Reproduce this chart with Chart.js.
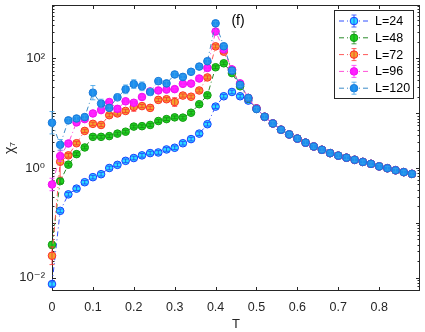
<!DOCTYPE html>
<html>
<head>
<meta charset="utf-8">
<script src="https://cdn.jsdelivr.net/npm/chart.js@4.4.1/dist/chart.umd.min.js"></script>
<style>
  html, body { margin: 0; padding: 0; background: #fff; }
</style>
</head>
<body>
<canvas id="chi7" width="425" height="332"></canvas>
<script>
// temperatures
const temps = [0, 0.02, 0.04, 0.06, 0.08, 0.10, 0.12, 0.14, 0.16, 0.18, 0.20, 0.22, 0.24, 0.26, 0.28,
  0.30, 0.32, 0.34, 0.36, 0.38, 0.40, 0.42, 0.44, 0.46, 0.48, 0.50, 0.52, 0.54, 0.56, 0.58,
  0.60, 0.62, 0.64, 0.66, 0.68, 0.70, 0.72, 0.74, 0.76, 0.78, 0.80, 0.82, 0.84, 0.86, 0.88];

const chiL24 = [0.0076, 0.165, 0.33, 0.42, 0.55, 0.68, 0.77, 1.0, 1.14, 1.35, 1.52, 1.70, 1.87, 1.92, 2.18,
  2.34, 2.83, 3.37, 4.24, 6.3, 13.2, 20.4, 24.4, 20.4, 17, 12.3, 8.6, 6.5, 5.0, 4.1,
  3.44, 2.9, 2.47, 2.15, 1.87, 1.68, 1.54, 1.41, 1.29, 1.19, 1.07, 0.99, 0.91, 0.84, 0.78];
const chiL48 = [0.0395, 0.575, 1.15, 1.79, 2.37, 3.7, 3.7, 3.82, 4.24, 4.6, 5.7, 5.8, 6.1, 7.2, 7.8,
  8.4, 8.3, 10.2, 14.6, 21.3, 69, 81.5, 54, 31, 18.5, 12, 8.6, 6.5, 5.0, 4.1,
  3.44, 2.9, 2.47, 2.15, 1.87, 1.68, 1.54, 1.41, 1.29, 1.19, 1.07, 0.99, 0.91, 0.84, 0.78];
const chiL72 = [0.025, 1.3, 1.7, 2.83, 4.75, 6.4, 6.1, 9.2, 9.9, 11, 13, 13.5, 12.5, 17.5, 18,
  16, 21, 20, 26, 45, 166, 133, 62, 34, 19, 12.2, 8.6, 6.5, 5.0, 4.1,
  3.44, 2.9, 2.47, 2.15, 1.87, 1.68, 1.54, 1.41, 1.29, 1.19, 1.07, 0.99, 0.91, 0.84, 0.78];
const chiL96 = [0.5, 1.65, 2.8, 6.8, 7.8, 9.9, 11.4, 16, 12, 16.5, 15.5, 19.8, 25, 26, 27,
  27.5, 34.4, 34.7, 43, 67, 310, 146, 63, 35, 19, 12.1, 8.6, 6.5, 5.0, 4.1,
  3.44, 2.9, 2.47, 2.15, 1.87, 1.68, 1.54, 1.41, 1.29, 1.19, 1.07, 0.99, 0.91, 0.84, 0.78];
const chiL120 = [6.7, 2.65, 7.4, 8.0, 8.5, 23.7, 15, 12.5, 19.5, 27.3, 34, 31, 24.4, 38.5, 35,
  51, 46, 57, 71, 89, 437, 167, 60, 33, 19, 11.9, 8.6, 6.5, 5.0, 4.1,
  3.44, 2.9, 2.47, 2.15, 1.87, 1.68, 1.54, 1.41, 1.29, 1.19, 1.07, 0.99, 0.91, 0.84, 0.78];

// relative error bar half-widths
const errL24 = [0.1, 0.08, 0.08, 0.08, 0.08, 0.08, 0.08, 0.08, 0.08, 0.08, 0.08, 0.08, 0.08, 0.08, 0.08,
  0.08, 0.08, 0.08, 0.08, 0.08, 0.08, 0.08, 0.08, 0.08, 0.08, 0.08, 0.08, 0.08, 0.08, 0.08,
  0.08, 0.08, 0.08, 0.08, 0.08, 0.08, 0.08, 0.08, 0.08, 0.08, 0.08, 0.08, 0.08, 0.08, 0.08];
const errL48 = [0.15, 0.1, 0.06, 0.06, 0.06, 0.06, 0.06, 0.06, 0.06, 0.06, 0.06, 0.06, 0.06, 0.06, 0.06,
  0.06, 0.06, 0.06, 0.06, 0.06, 0.06, 0.06, 0.06, 0.06, 0.06, 0.06, 0.06, 0.06, 0.06, 0.06,
  0.06, 0.06, 0.06, 0.06, 0.06, 0.06, 0.06, 0.06, 0.06, 0.06, 0.06, 0.06, 0.06, 0.06, 0.06];
const errL72 = [0.45, 0.9, 0.08, 0.07, 0.07, 0.07, 0.07, 0.07, 0.07, 0.07, 0.2, 0.07, 0.07, 0.07, 0.07,
  0.2, 0.07, 0.07, 0.07, 0.07, 0.07, 0.07, 0.07, 0.07, 0.07, 0.07, 0.07, 0.07, 0.07, 0.07,
  0.07, 0.07, 0.07, 0.07, 0.07, 0.07, 0.07, 0.07, 0.07, 0.07, 0.07, 0.07, 0.07, 0.07, 0.07];
const errL96 = [0.3, 0.25, 0.08, 0.07, 0.07, 0.07, 0.07, 0.07, 0.07, 0.1, 0.1, 0.07, 0.07, 0.07, 0.07,
  0.07, 0.07, 0.07, 0.07, 0.07, 0.07, 0.07, 0.07, 0.07, 0.07, 0.07, 0.07, 0.07, 0.07, 0.07,
  0.07, 0.07, 0.07, 0.07, 0.07, 0.07, 0.07, 0.07, 0.07, 0.07, 0.07, 0.07, 0.07, 0.07, 0.07];
const errL120 = [0.6, 0.25, 0.08, 0.08, 0.08, 0.35, 0.2, 0.08, 0.15, 0.2, 0.2, 0.2, 0.15, 0.12, 0.08,
  0.08, 0.08, 0.08, 0.08, 0.08, 0.08, 0.08, 0.08, 0.08, 0.08, 0.08, 0.08, 0.08, 0.08, 0.08,
  0.08, 0.08, 0.08, 0.08, 0.08, 0.08, 0.08, 0.08, 0.08, 0.08, 0.08, 0.08, 0.08, 0.08, 0.08];

const seriesNames = ['L=24', 'L=48', 'L=72', 'L=96', 'L=120'];
const xTicks = [0, 0.1, 0.2, 0.3, 0.4, 0.5, 0.6, 0.7, 0.8];
const yTicks = [0.01, 1, 100];
const yTickLabels = ['10\u207B\u00B2', '10\u2070', '10\u00B2'];

const faceColors = ['#2adcff', '#1ed21e', '#f2a22e', '#ff1aff', '#1c8fef'];
const edgeColors = ['#1a3cff', '#139a13', '#ff2a2a', '#ee10ee', '#1878d8'];
const lineColors = ['#3050ff', '#2a8a2a', '#ff5a5a', '#ff50d8', '#3c8cc8'];
const barColors = ['#2040ff', '#1a8a1a', '#ff3030', '#ff30ff', '#3aa0e8'];

const allChi = [chiL24, chiL48, chiL72, chiL96, chiL120];
const allErr = [errL24, errL48, errL72, errL96, errL120];
const fontFamily = '"Liberation Sans", Arial, Helvetica, "DejaVu Sans", sans-serif';
const axisColor = '#262626';

const datasets = seriesNames.map((name, i) => ({
  label: name,
  data: temps.map((t, j) => ({ x: t, y: allChi[i][j] })),
  errRel: allErr[i],
  borderColor: lineColors[i],
  borderWidth: 1,
  borderDash: [5, 3, 1, 3],
  pointRadius: 3.8,
  pointBackgroundColor: faceColors[i],
  pointBorderColor: edgeColors[i],
  pointBorderWidth: 1,
  tension: 0,
  fill: false,
  clip: false,
  order: seriesNames.length - i
}));

// box + inward ticks, drawn under the data like matlab
const axesBox = {
  id: 'axesBox',
  beforeDatasetsDraw(chart) {
    const { ctx, chartArea: a, scales } = chart;
    const xs = scales.x, ys = scales.y;
    ctx.save();
    ctx.strokeStyle = axisColor;
    ctx.lineWidth = 1;
    ctx.strokeRect(a.left + 0.5, a.top + 0.5, a.right - a.left - 1, a.bottom - a.top - 1);
    ctx.beginPath();
    xTicks.forEach(v => {
      const px = Math.round(xs.getPixelForValue(v)) + 0.5;
      ctx.moveTo(px, a.bottom); ctx.lineTo(px, a.bottom - 4);
      ctx.moveTo(px, a.top); ctx.lineTo(px, a.top + 4);
    });
    for (let e = -3; e <= 3; e++) {
      for (let m = 1; m <= 9; m++) {
        const v = m * Math.pow(10, e);
        if (v < ys.min || v > ys.max) continue;
        const py = Math.round(ys.getPixelForValue(v)) + 0.5;
        const len = m === 1 ? 4 : 2.5;
        ctx.moveTo(a.left, py); ctx.lineTo(a.left + len, py);
        ctx.moveTo(a.right, py); ctx.lineTo(a.right - len, py);
      }
    }
    ctx.stroke();
    ctx.restore();
  }
};

const errorBars = {
  id: 'errorBars',
  afterDatasetDraw(chart, args) {
    const ds = chart.data.datasets[args.index];
    const ys = chart.scales.y;
    const ctx = chart.ctx;
    ctx.save();
    ctx.strokeStyle = barColors[args.index];
    ctx.lineWidth = 0.8;
    ctx.beginPath();
    args.meta.data.forEach((pt, j) => {
      const v = ds.data[j].y;
      const e = ds.errRel[j];
      const yTop = ys.getPixelForValue(v * (1 + e));
      const yBot = ys.getPixelForValue(v / (1 + e));
      ctx.moveTo(pt.x, yTop); ctx.lineTo(pt.x, yBot);
      ctx.moveTo(pt.x - 2.5, yTop); ctx.lineTo(pt.x + 2.5, yTop);
      ctx.moveTo(pt.x - 2.5, yBot); ctx.lineTo(pt.x + 2.5, yBot);
    });
    ctx.stroke();
    ctx.restore();
  }
};

const boxLegend = {
  id: 'boxLegend',
  afterDraw(chart) {
    const ctx = chart.ctx;
    ctx.save();
    ctx.fillStyle = '#000';
    ctx.font = '14px ' + fontFamily;
    ctx.textAlign = 'center';
    ctx.textBaseline = 'middle';
    ctx.fillText('(f)', 238, 21);

    ctx.fillStyle = '#fff';
    ctx.fillRect(334, 10, 79, 88);
    ctx.strokeStyle = axisColor;
    ctx.lineWidth = 1;
    ctx.strokeRect(334.5, 10.5, 79, 88);
    seriesNames.forEach((name, i) => {
      const y = 21 + i * 16.8;
      ctx.strokeStyle = lineColors[i];
      ctx.lineWidth = 1;
      ctx.setLineDash([5, 3, 1, 3]);
      ctx.beginPath();
      ctx.moveTo(339, y); ctx.lineTo(369, y);
      ctx.stroke();
      ctx.setLineDash([]);
      ctx.beginPath();
      ctx.arc(354, y, 3.8, 0, Math.PI * 2);
      ctx.fillStyle = faceColors[i];
      ctx.fill();
      ctx.strokeStyle = edgeColors[i];
      ctx.stroke();
      ctx.strokeStyle = barColors[i];
      ctx.lineWidth = 0.8;
      ctx.beginPath();
      ctx.moveTo(354, y - 6); ctx.lineTo(354, y + 6);
      ctx.moveTo(351.5, y - 6); ctx.lineTo(356.5, y - 6);
      ctx.moveTo(351.5, y + 6); ctx.lineTo(356.5, y + 6);
      ctx.stroke();
      ctx.fillStyle = '#000';
      ctx.font = '12.5px ' + fontFamily;
      ctx.textAlign = 'left';
      ctx.fillText(name, 375, y + 0.5);
    });
    ctx.restore();
  }
};

const ctx = document.getElementById('chi7').getContext('2d');
const chiChart = new Chart(ctx, {
  type: 'line',
  data: { datasets: datasets },
  plugins: [axesBox, errorBars, boxLegend],
  options: {
    responsive: false,
    animation: false,
    devicePixelRatio: 1,
    layout: { padding: { top: 2, right: 2, left: 0, bottom: 0 } },
    plugins: { legend: { display: false }, tooltip: { enabled: false } },
    scales: {
      x: {
        type: 'linear',
        min: 0,
        max: 0.8998,
        afterBuildTicks: s => { s.ticks = xTicks.map(v => ({ value: v })); },
        afterFit: s => { s.height = 41; s.paddingLeft = 0; s.paddingRight = 0; },
        grid: { display: false, drawTicks: false },
        border: { display: false },
        ticks: {
          padding: 9,
          color: axisColor,
          font: { family: fontFamily, size: 12.5 },
          callback: v => (v === 0 ? '0' : v.toFixed(1))
        },
        title: {
          display: true, text: 'T', color: axisColor,
          font: { family: fontFamily, size: 13 },
          padding: { top: 0, bottom: 0 }
        }
      },
      y: {
        type: 'logarithmic',
        min: 0.00568,
        max: 945,
        afterBuildTicks: s => { s.ticks = yTicks.map(v => ({ value: v })); },
        afterFit: s => { s.width = 52; s.paddingTop = 0; s.paddingBottom = 0; },
        grid: { display: false, drawTicks: false },
        border: { display: false },
        ticks: {
          padding: 7,
          color: axisColor,
          font: { family: fontFamily, size: 13 },
          callback: (v, i) => yTickLabels[i]
        },
        title: {
          display: true, text: '\u03C7\u2087', color: axisColor,
          font: { family: fontFamily, size: 14 },
          padding: { top: 2, bottom: 0 }
        }
      }
    }
  }
});
</script>
</body>
</html>
